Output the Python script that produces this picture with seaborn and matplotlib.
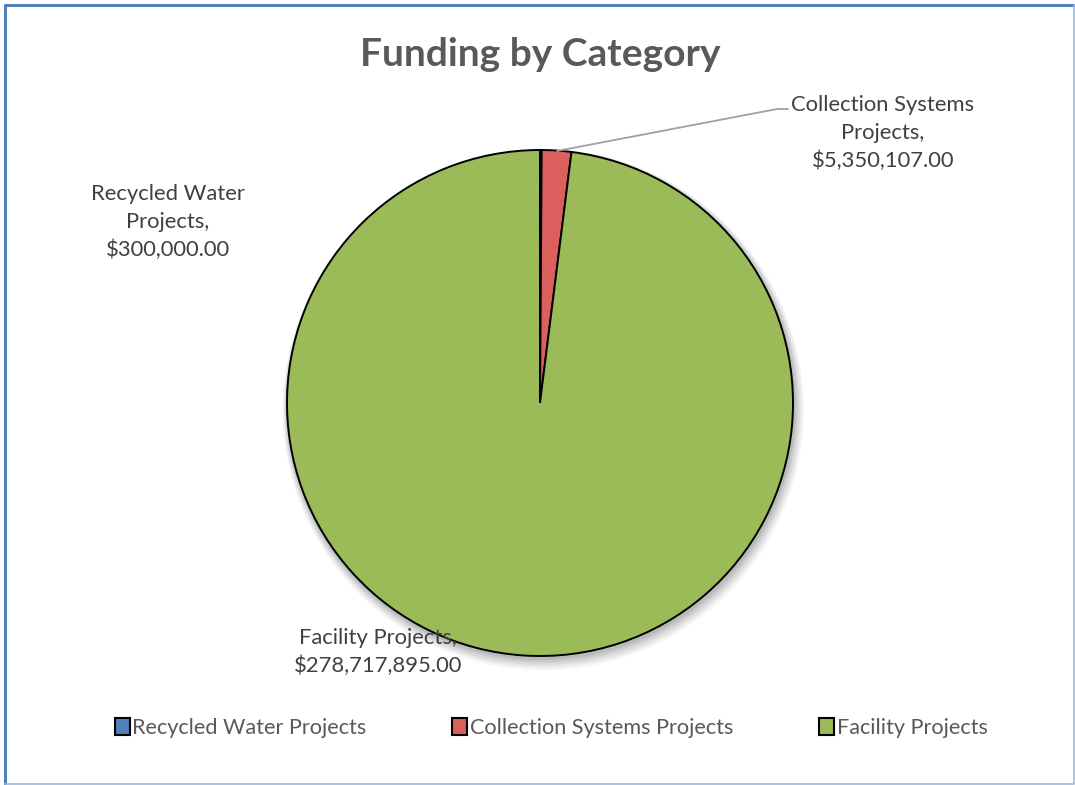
import matplotlib
matplotlib.use("Agg")
import matplotlib.pyplot as plt
import seaborn as sns
from matplotlib.patches import Patch, Circle
from matplotlib.lines import Line2D

categories = ["Recycled Water Projects", "Collection Systems Projects", "Facility Projects"]
label_names = ["Recycled Water\nProjects,", "Collection Systems\nProjects,", "Facility Projects,"]
values = [300000.00, 5350107.00, 278717895.00]
colors = ["#4F81BD", "#DB5F5C", "#9BBB59"]
title = "Funding by Category"

sns.set_theme(style="white")
plt.rcParams["font.family"] = ["Lato", "DejaVu Sans"]

W, H = 1075, 785
fig = plt.figure(figsize=(W / 100, H / 100), dpi=100)

# pie axes: centre (540, 403) px, radius 253 px
cx, cy, r = 540, 403, 253
ax = fig.add_axes([(cx - r) / W, (H - cy - r) / H, 2 * r / W, 2 * r / H])
ax.set_aspect("equal")
ax.axis("off")

# soft drop shadow behind the pie
for i, a in enumerate([0.04, 0.05, 0.06, 0.07, 0.08]):
    off = 0.026 - i * 0.004
    ax.add_patch(Circle((off * 0.5, -off), 1.0 + 0.006 * (5 - i),
                        color="black", alpha=a, lw=0, zorder=0, clip_on=False))

wedges, _ = ax.pie(values, colors=colors, startangle=90, counterclock=False,
                   radius=1.0, center=(0, 0),
                   wedgeprops=dict(edgecolor="black", linewidth=1.4))
for w in wedges:
    w.set_zorder(2)
ax.set_xlim(-1.0, 1.0)
ax.set_ylim(-1.0, 1.0)

def fmt(v):
    return "${:,.2f}".format(v)

text_col = "#404040"
lab_fs = 15.8
ls = 1.5

def px(x, y):
    return x / W, 1 - y / H

# data labels
fig.text(*px(168, 222), f"{label_names[0]}\n{fmt(values[0])}", ha="center", va="center",
         fontsize=lab_fs, color=text_col, linespacing=ls)
fig.text(*px(883, 133), f"{label_names[1]}\n{fmt(values[1])}", ha="center", va="center",
         fontsize=lab_fs, color=text_col, linespacing=ls)
fig.text(*px(378, 652), f"{label_names[2]}\n{fmt(values[2])}", ha="center", va="center",
         fontsize=lab_fs, color=text_col, linespacing=ls, zorder=5)

# leader line to the collection systems slice
fig.add_artist(Line2D([557 / W, 777 / W, 788 / W], [1 - 151 / H, 1 - 109 / H, 1 - 109 / H],
                      color="#A0A0A0", lw=1.3))

# title
fig.text(*px(540, 55), title, ha="center", va="center", fontsize=28,
         fontweight="bold", color="#595959")

# legend
handles = [Patch(facecolor=c, edgecolor="black", linewidth=1.5) for c in colors]
leg = fig.legend(handles, categories, loc="center", bbox_to_anchor=(551 / W, 1 - 728 / H),
                 ncol=3, frameon=False, fontsize=15.6, handlelength=0.7, handleheight=0.8,
                 handletextpad=0.12, columnspacing=3.95, labelcolor="#595959")

# chart frame
fig.add_artist(Line2D([5 / W, 5 / W, 1], [0, 1 - 5 / H, 1 - 5 / H], color="#4F81BD", lw=2.2))
fig.add_artist(Line2D([5 / W, 1073.5 / W, 1073.5 / W], [1 - 783.5 / H, 1 - 783.5 / H, 1 - 5 / H],
                      color="#9DB9DB", lw=1.2))

fig.savefig("out.png", dpi=100, facecolor="white")
